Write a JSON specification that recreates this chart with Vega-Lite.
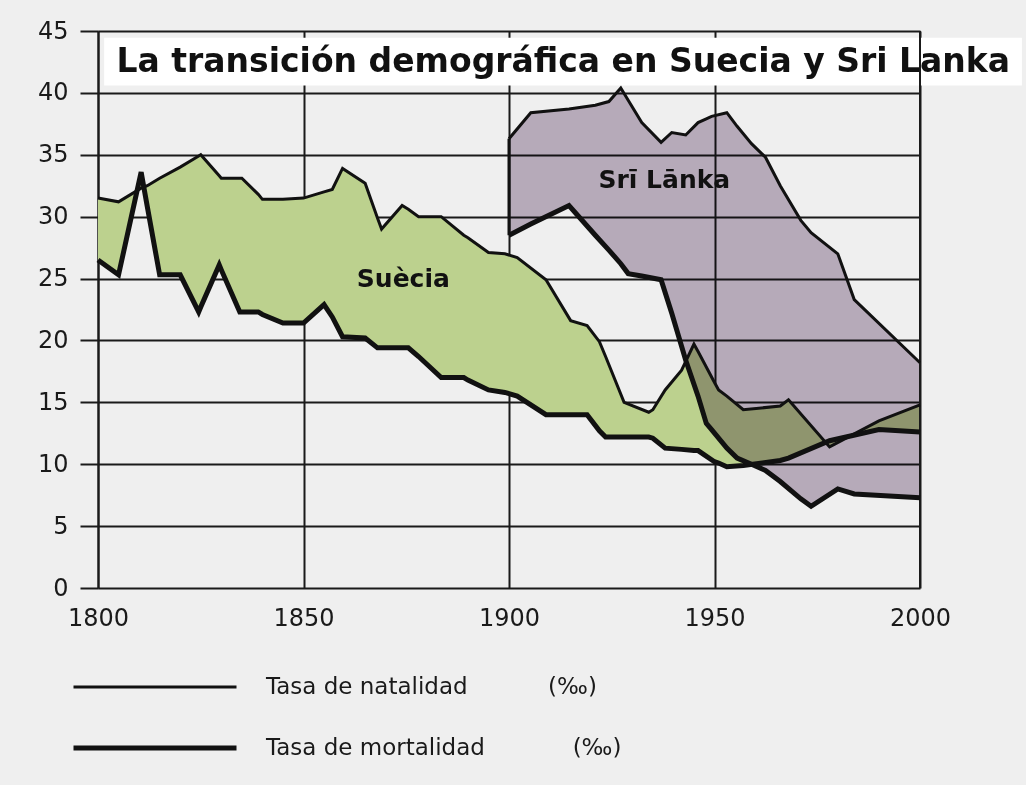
{
  "$schema": "https://vega.github.io/schema/vega-lite/v6.json",
  "autosize": {"type": "none"},
  "padding": {"left": 98, "top": 31, "right": 106, "bottom": 197},
  "width": 822,
  "height": 557,
  "background": "#efefef",
  "config": {
    "view": {"stroke": null},
    "font": "DejaVu Sans",
    "axis": {"gridColor": "#1a1a1a", "gridWidth": 2, "gridOpacity": 1, "domainColor": "#1a1a1a", "domainWidth": 2, "tickColor": "#1a1a1a", "tickWidth": 2, "labelColor": "#1a1a1a", "labelFont": "DejaVu Sans", "labelFontSize": 24, "title": null}
  },
  "datasets": {
    "suecia": [
      {"year": 1800, "natalidad": 31.5, "mortalidad": 26.5},
      {"year": 1805, "natalidad": 31.2, "mortalidad": 25.3},
      {"year": 1810.5, "natalidad": 32.3, "mortalidad": 33.6},
      {"year": 1812, "natalidad": 32.5, "mortalidad": 30.8},
      {"year": 1815, "natalidad": 33.1, "mortalidad": 25.3},
      {"year": 1820, "natalidad": 34.0, "mortalidad": 25.3},
      {"year": 1824.5, "natalidad": 34.9, "mortalidad": 22.3},
      {"year": 1825, "natalidad": 35.0, "mortalidad": 22.7},
      {"year": 1829.5, "natalidad": 33.3, "mortalidad": 26.1},
      {"year": 1830, "natalidad": 33.1, "mortalidad": 25.7},
      {"year": 1834.5, "natalidad": 33.1, "mortalidad": 22.3},
      {"year": 1835, "natalidad": 33.1, "mortalidad": 22.3},
      {"year": 1839, "natalidad": 31.8, "mortalidad": 22.3},
      {"year": 1840, "natalidad": 31.4, "mortalidad": 22.1},
      {"year": 1845, "natalidad": 31.4, "mortalidad": 21.4},
      {"year": 1850, "natalidad": 31.5, "mortalidad": 21.4},
      {"year": 1855, "natalidad": 32.0, "mortalidad": 22.9},
      {"year": 1857, "natalidad": 32.2, "mortalidad": 21.9},
      {"year": 1859.5, "natalidad": 33.9, "mortalidad": 20.3},
      {"year": 1865, "natalidad": 32.7, "mortalidad": 20.2},
      {"year": 1868, "natalidad": 29.9, "mortalidad": 19.4},
      {"year": 1869, "natalidad": 29.0, "mortalidad": 19.4},
      {"year": 1874, "natalidad": 30.9, "mortalidad": 19.4},
      {"year": 1875.5, "natalidad": 30.6, "mortalidad": 19.4},
      {"year": 1878, "natalidad": 30.0, "mortalidad": 18.7},
      {"year": 1883.5, "natalidad": 30.0, "mortalidad": 17.0},
      {"year": 1889, "natalidad": 28.5, "mortalidad": 17.0},
      {"year": 1890, "natalidad": 28.3, "mortalidad": 16.8},
      {"year": 1895, "natalidad": 27.1, "mortalidad": 16.0},
      {"year": 1899, "natalidad": 27.0, "mortalidad": 15.8},
      {"year": 1902, "natalidad": 26.7, "mortalidad": 15.5},
      {"year": 1909, "natalidad": 24.9, "mortalidad": 14.0},
      {"year": 1915, "natalidad": 21.6, "mortalidad": 14.0},
      {"year": 1919, "natalidad": 21.2, "mortalidad": 14.0},
      {"year": 1922, "natalidad": 19.9, "mortalidad": 12.7},
      {"year": 1923.5, "natalidad": 18.7, "mortalidad": 12.2},
      {"year": 1928, "natalidad": 15.0, "mortalidad": 12.2},
      {"year": 1934, "natalidad": 14.2, "mortalidad": 12.2},
      {"year": 1935, "natalidad": 14.4, "mortalidad": 12.1},
      {"year": 1938, "natalidad": 16.0, "mortalidad": 11.3},
      {"year": 1942, "natalidad": 17.6, "mortalidad": 11.2},
      {"year": 1945, "natalidad": 19.7, "mortalidad": 11.1},
      {"year": 1946, "natalidad": 19.1, "mortalidad": 11.1},
      {"year": 1950, "natalidad": 16.6, "mortalidad": 10.2},
      {"year": 1951, "natalidad": 16.0, "mortalidad": 10.1},
      {"year": 1953, "natalidad": 15.5, "mortalidad": 9.8},
      {"year": 1957, "natalidad": 14.4, "mortalidad": 9.9},
      {"year": 1966, "natalidad": 14.7, "mortalidad": 10.3},
      {"year": 1968, "natalidad": 15.2, "mortalidad": 10.5},
      {"year": 1978, "natalidad": 11.4, "mortalidad": 11.9},
      {"year": 1990, "natalidad": 13.5, "mortalidad": 12.8},
      {"year": 2000, "natalidad": 14.8, "mortalidad": 12.6}
    ],
    "srilanka": [
      {"year": 1900, "natalidad": 36.3, "mortalidad": 28.5},
      {"year": 1905.3, "natalidad": 38.4, "mortalidad": 29.4},
      {"year": 1914.6, "natalidad": 38.7, "mortalidad": 30.9},
      {"year": 1921, "natalidad": 39.0, "mortalidad": 28.5},
      {"year": 1924.3, "natalidad": 39.3, "mortalidad": 27.3},
      {"year": 1927.2, "natalidad": 40.4, "mortalidad": 26.2},
      {"year": 1929, "natalidad": 39.4, "mortalidad": 25.4},
      {"year": 1932.3, "natalidad": 37.6, "mortalidad": 25.2},
      {"year": 1937, "natalidad": 36.0, "mortalidad": 24.9},
      {"year": 1939.6, "natalidad": 36.8, "mortalidad": 22.2},
      {"year": 1943, "natalidad": 36.6, "mortalidad": 18.4},
      {"year": 1946, "natalidad": 37.6, "mortalidad": 15.5},
      {"year": 1948, "natalidad": 37.9, "mortalidad": 13.3},
      {"year": 1949.3, "natalidad": 38.1, "mortalidad": 12.8},
      {"year": 1953, "natalidad": 38.4, "mortalidad": 11.3},
      {"year": 1955.5, "natalidad": 37.3, "mortalidad": 10.5},
      {"year": 1959, "natalidad": 35.9, "mortalidad": 10.0},
      {"year": 1962.4, "natalidad": 34.8, "mortalidad": 9.5},
      {"year": 1966, "natalidad": 32.5, "mortalidad": 8.6},
      {"year": 1971, "natalidad": 29.7, "mortalidad": 7.2},
      {"year": 1973.5, "natalidad": 28.7, "mortalidad": 6.6},
      {"year": 1980, "natalidad": 27.0, "mortalidad": 8.0},
      {"year": 1984, "natalidad": 23.3, "mortalidad": 7.6},
      {"year": 2000, "natalidad": 18.2, "mortalidad": 7.3}
    ],
    "uno": [{}]
  },
  "encoding": {
    "x": {"type": "quantitative", "scale": {"domain": [1800, 2000], "nice": false},
      "axis": {"values": [1800, 1850, 1900, 1950, 2000], "grid": true, "ticks": false, "domain": false, "labelPadding": 18, "format": "d", "labelFlush": false}},
    "y": {"type": "quantitative", "scale": {"domain": [0, 45], "nice": false},
      "axis": {"values": [0, 5, 10, 15, 20, 25, 30, 35, 40, 45], "grid": true, "tickSize": 18, "labelPadding": 12, "domain": true}}
  },
  "layer": [
    {
      "data": {"name": "uno"},
      "mark": {"type": "rect", "color": "#ffffff"},
      "encoding": {
        "x": {"datum": 1801.5},
        "x2": {"datum": 2024.8},
        "y": {"datum": 44.45},
        "y2": {"datum": 40.6}
      }
    },
    {
      "data": {"name": "suecia"},
      "mark": {"type": "area", "color": "#bcd18e", "opacity": 1},
      "encoding": {
        "x": {"field": "year"},
        "y": {"field": "mortalidad"},
        "y2": {"field": "natalidad"}
      }
    },
    {
      "data": {"name": "srilanka"},
      "mark": {"type": "area", "color": "#c2b6c6", "opacity": 1, "blend": "multiply"},
      "encoding": {
        "x": {"field": "year"},
        "y": {"field": "mortalidad"},
        "y2": {"field": "natalidad"}
      }
    },
    {
      "data": {"name": "srilanka"},
      "transform": [{"filter": "datum.year == 1900"}],
      "mark": {"type": "rule", "color": "#111111", "strokeWidth": 3},
      "encoding": {
        "x": {"field": "year"},
        "y": {"field": "mortalidad"},
        "y2": {"field": "natalidad"}
      }
    },
    {
      "data": {"name": "uno"},
      "mark": {"type": "rule", "color": "#1a1a1a", "strokeWidth": 2},
      "encoding": {
        "x": {"datum": 2000},
        "y": {"datum": 0},
        "y2": {"datum": 45}
      }
    },
    {
      "data": {"name": "suecia"},
      "transform": [{"fold": ["natalidad", "mortalidad"], "as": ["serie", "valor"]}],
      "mark": {"type": "line", "color": "#111111", "strokeJoin": "miter"},
      "encoding": {
        "x": {"field": "year"},
        "y": {"field": "valor"},
        "detail": {"field": "serie", "type": "nominal"},
        "strokeWidth": {"field": "serie", "type": "ordinal",
          "scale": {"domain": ["natalidad", "mortalidad"], "range": [3, 5]},
          "legend": {
            "orient": "none", "legendX": -27, "legendY": 641, "title": null,
            "symbolType": "stroke", "symbolSize": 26569, "symbolStrokeColor": "#111111",
            "clipHeight": 30, "rowPadding": 31, "labelOffset": 27, "padding": 0,
            "labelFont": "DejaVu Sans", "labelFontSize": 23, "labelColor": "#1a1a1a", "labelLimit": 500,
            "labelExpr": "datum.label == 'natalidad' ? 'Tasa de natalidad\u00a0\u00a0\u00a0\u00a0\u00a0\u00a0\u00a0\u00a0\u00a0\u00a0\u00a0(‰)' : 'Tasa de mortalidad\u00a0\u00a0\u00a0\u00a0\u00a0\u00a0\u00a0\u00a0\u00a0\u00a0\u00a0\u00a0(‰)'"
          }
        }
      }
    },
    {
      "data": {"name": "srilanka"},
      "transform": [{"fold": ["natalidad", "mortalidad"], "as": ["serie", "valor"]}],
      "mark": {"type": "line", "color": "#111111", "strokeJoin": "miter"},
      "encoding": {
        "x": {"field": "year"},
        "y": {"field": "valor"},
        "detail": {"field": "serie", "type": "nominal"},
        "strokeWidth": {"field": "serie", "type": "ordinal"}
      }
    },
    {
      "data": {"name": "uno"},
      "mark": {"type": "text", "text": "La transición demográfica en Suecia y Sri Lanka", "font": "DejaVu Sans", "fontWeight": "bold", "fontSize": 33, "align": "left", "baseline": "middle", "color": "#111111"},
      "encoding": {
        "x": {"datum": 1804.5},
        "y": {"datum": 42.5}
      }
    },
    {
      "data": {"name": "uno"},
      "mark": {"type": "text", "text": "Suècia", "font": "DejaVu Sans", "fontWeight": "bold", "fontSize": 25, "align": "center", "baseline": "middle", "color": "#111111"},
      "encoding": {
        "x": {"datum": 1874.3},
        "y": {"datum": 25.0}
      }
    },
    {
      "data": {"name": "uno"},
      "mark": {"type": "text", "text": "Srī Lānka", "font": "DejaVu Sans", "fontWeight": "bold", "fontSize": 25, "align": "center", "baseline": "middle", "color": "#111111"},
      "encoding": {
        "x": {"datum": 1937.8},
        "y": {"datum": 33.0}
      }
    }
  ]
}
